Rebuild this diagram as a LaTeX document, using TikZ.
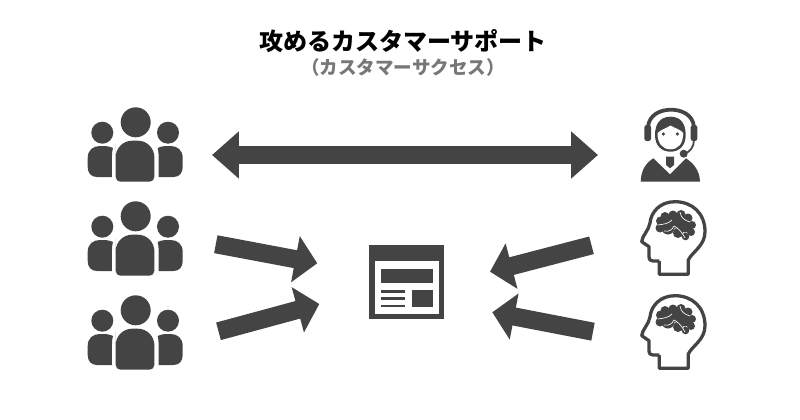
\documentclass[tikz,border=0pt]{standalone}
\usepackage{fontspec}
\newfontfamily\cjk{Noto Sans CJK JP}[BoldFont={Noto Sans CJK JP Black}]
\usetikzlibrary{arrows.meta}
\definecolor{icongray}{HTML}{444444}
\definecolor{subgray}{HTML}{777777}
\tikzset{
  iconfill/.style={fill=icongray,draw=none},
  blockarrow/.style={draw=icongray,line width=15.5pt,-{Triangle[length=19pt,width=39pt]}},
  bothblockarrow/.style={draw=icongray,line width=15.5pt,{Triangle[length=23pt,width=39pt]}-{Triangle[length=23pt,width=39pt]}}
}
\newcommand{\peopleicon}[1]{
\begin{scope}[yshift=#1]
\fill [iconfill] (135.7,-122.3) circle (15);
\fill [iconfill] (102.3,-132.7) circle (11);
\fill [iconfill] (168,-132.7) circle (11);
\fill [iconfill,rounded corners=4pt] (115.7,-160) -- (115.7,-181.7) -- (154.3,-181.7) -- (154.3,-160) [rounded corners=14pt] -- (154.3,-140.7) -- (115.7,-140.7) -- cycle;
\fill [iconfill] (112,-177) -- (97,-177) .. controls (91,-177) and (87.7,-173) .. (87.7,-167) -- (87.7,-158) .. controls (87.7,-150) and (93,-146) .. (100,-146) .. controls (105,-146) and (109,-146) .. (113,-148) .. controls (111.5,-152) and (112,-160) .. (112,-177) -- cycle;
\fill [iconfill] (158.7,-177) -- (173.4,-177) .. controls (179.4,-177) and (182.7,-173) .. (182.7,-167) -- (182.7,-158) .. controls (182.7,-150) and (177.4,-146) .. (170.4,-146) .. controls (165.4,-146) and (161.4,-146) .. (157.7,-148) .. controls (158.9,-152) and (158.7,-160) .. (158.7,-177) -- cycle;
\end{scope}
}
\newcommand{\headicon}[1]{
\begin{scope}[yshift=#1]
\draw [icongray,line width=2.8pt,line join=round] (659.3,-261) -- (659.3,-274.3) -- (688.3,-274.3) -- (688.3,-260)
  .. controls (692,-252) and (705,-246) .. (705,-231.7)
  .. controls (705,-213) and (692,-201.7) .. (675,-201.7)
  .. controls (660,-201.7) and (651,-212) .. (650,-223)
  .. controls (649,-230) and (642,-236) .. (641.7,-241.7)
  -- (649,-246.7) -- (649,-256.7)
  .. controls (649,-260) and (651,-261) .. (653,-261) -- (659.3,-261);
\foreach \bx/\by/\br in {660.5/-221/4.5,660/-228/4.5,665/-216.5/4.5,673/-215/4.5,681/-214.5/4.5,688/-218/4.5,692/-225/4,691/-232/4,685.5/-236.5/3.8,678/-233/5,668/-228/6.5,670/-221/7,678/-222/7,685/-226/6.5}
  \fill [iconfill] (\bx,\by) circle (\br);
\draw [white,line width=0.55pt] (658,-225) .. controls (664,-224) and (668,-224) .. (672,-220);
\draw [white,line width=0.55pt] (664,-231) .. controls (669,-232) and (672,-230) .. (674,-226) .. controls (678,-228) and (682,-232) .. (685,-238);
\draw [white,line width=0.55pt] (680,-212) .. controls (681,-218) and (684,-220) .. (690,-222);
\end{scope}
}
\begin{document}
\begin{tikzpicture}[x=0.03cm,y=0.03cm]
\useasboundingbox (0,0) rectangle (800,-420);
\node (title) at (403,-41) {\cjk\bfseries\fontsize{20.5pt}{24pt}\selectfont 攻めるカスタマーサポート};
\node [text=subgray] (subtitle) at (403,-67.5) {\cjk\bfseries\fontsize{15.8pt}{18pt}\selectfont （カスタマーサクセス）};
\peopleicon{0}
\peopleicon{-94*0.03cm}
\peopleicon{-188*0.03cm}
% operator
\fill [iconfill,rounded corners=2pt] (644.3,-125) rectangle (651,-141);
\fill [iconfill,rounded corners=2pt] (690.7,-125) rectangle (697.3,-141);
\draw [icongray,line width=3.2pt] (648,-127) .. controls (649,-115) and (660,-109.7) .. (671,-109.7) .. controls (682,-109.7) and (693,-115) .. (694,-127);
\fill [iconfill] (655,-135) .. controls (655,-124) and (660,-116.7) .. (670.5,-116.7) .. controls (681,-116.7) and (685.7,-124) .. (685.7,-135) .. controls (685.7,-146) and (679,-151.7) .. (670.5,-151.7) .. controls (662,-151.7) and (655,-146) .. (655,-135) -- cycle;
\fill [white] (657.5,-133) .. controls (662,-129) and (667,-128) .. (670.5,-125.5) .. controls (674,-128) and (680,-129) .. (683.2,-133) .. controls (683.2,-144) and (678,-149.3) .. (670.5,-149.3) .. controls (663,-149.3) and (657.5,-144) .. (657.5,-133) -- cycle;
\fill [iconfill] (663.3,-134) circle (1.8);
\fill [iconfill] (677.3,-134) circle (1.8);
\draw [icongray,line width=1.5pt] (694,-140) .. controls (694,-147) and (690,-152) .. (684,-154);
\fill [iconfill] (683.7,-153.7) circle (4);
\fill [iconfill] (640.7,-181.7) .. controls (641,-170) and (646,-163) .. (653.3,-158.3) -- (670,-174.3) -- (686,-158.3) .. controls (693,-163) and (699.7,-170) .. (700,-181.7) -- cycle;
\fill [iconfill] (666,-156.7) -- (674,-156.7) -- (674,-165) -- (670,-168.3) -- (666,-165) -- cycle;
\headicon{0}
\headicon{-94*0.03cm}
% page
\fill [iconfill] (369.3,-244.7) rectangle (444,-319.3);
\fill [white] (374.7,-261) rectangle (438.7,-314.3);
\fill [iconfill] (380.7,-269.3) rectangle (432.7,-283.3);
\fill [iconfill] (412.3,-289.7) rectangle (432.7,-307.3);
\foreach \ly in {-291.3,-298.3,-305.7}
  \fill [iconfill] (380.7,\ly+1.2) rectangle (404.7,\ly-1.2);
% arrows
\coordinate (talkleft) at (212,-155);
\coordinate (talkright) at (598,-155);
\coordinate (custa) at (215.8,-244.2);
\coordinate (custb) at (218.5,-331.3);
\coordinate (pagea) at (317.3,-263.3);
\coordinate (pageb) at (319.3,-304);
\coordinate (minda) at (591.5,-245.3);
\coordinate (mindb) at (593,-331.7);
\coordinate (pagec) at (490,-271.7);
\coordinate (paged) at (492.3,-312.3);
\draw [bothblockarrow] (talkleft) -- (talkright);
\draw [blockarrow] (custa) -- (pagea);
\draw [blockarrow] (custb) -- (pageb);
\draw [blockarrow] (minda) -- (pagec);
\draw [blockarrow] (mindb) -- (paged);
\end{tikzpicture}
\end{document}
